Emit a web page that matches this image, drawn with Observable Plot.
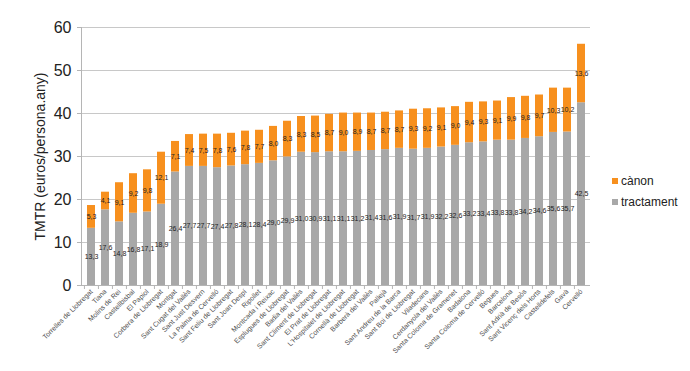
<!DOCTYPE html>
<html>
<head>
<meta charset="utf-8">
<script src="https://cdn.jsdelivr.net/npm/d3@7"></script>
<script src="https://cdn.jsdelivr.net/npm/@observablehq/plot@0.6"></script>
<style>
  html, body { margin: 0; padding: 0; background: #fff; }
  #wrap { position: relative; width: 690px; height: 371px; font-family: "Liberation Sans", Arial, sans-serif; }
  #legend { position: absolute; left: 612px; top: 171px; font-size: 12px; color: #222; line-height: 21px; }
  #legend .sw { display: inline-block; width: 6px; height: 6px; margin-right: 3px; vertical-align: 1px; }
</style>
</head>
<body>
<div id="wrap"><div id="legend"></div></div>
<script>
const municipis = ["Torrelles de Llobregat","Tiana","Molins de Rei","Castellbisbal","El Papiol","Corbera de Llobregat","Montgat","Sant Cugat del Vallès","Sant Just Desvern","La Palma de Cervelló","Sant Feliu de Llobregat","Sant Joan Despí","Ripollet","Montcada i Reixac","Esplugues de Llobregat","Badia del Vallès","Sant Climent de Llobregat","El Prat de Llobregat","L'Hospitalet de Llobregat","Cornellà de Llobregat","Barberà del Vallès","Pallejà","Sant Andreu de la Barca","Sant Boi de Llobregat","Viladecans","Cerdanyola del Vallès","Santa Coloma de Gramenet","Badalona","Santa Coloma de Cervelló","Begues","Barcelona","Sant Adrià de Besòs","Sant Vicenç dels Horts","Castelldefels","Gavà","Cervelló"];
const tractament = [13.3,17.6,14.8,16.8,17.1,18.9,26.4,27.7,27.7,27.4,27.8,28.1,28.4,29.0,29.9,31.0,30.9,31.1,31.1,31.2,31.4,31.6,31.9,31.7,31.9,32.2,32.6,33.2,33.4,33.8,33.8,34.2,34.6,35.6,35.7,42.5];
const canon = [5.3,4.1,9.1,9.2,9.8,12.1,7.1,7.4,7.5,7.8,7.6,7.8,7.7,8.0,8.3,8.3,8.5,8.7,9.0,8.9,8.7,8.7,8.7,9.3,9.2,9.1,9.0,9.4,9.3,9.1,9.9,9.8,9.7,10.3,10.2,13.6];
const series = ["cànon","tractament"];
const colors = ["#f7901e","#a8a8a8"];
const yTicks = [0,10,20,30,40,50,60];
const yTitle = "TMTR (euros/persona.any)";

const rows = [];
municipis.forEach((m, i) => {
  rows.push({name: m, serie: "tractament", value: tractament[i]});
  rows.push({name: m, serie: "cànon", value: canon[i]});
});
const order = ["tractament","cànon"];
const fmt = v => v.toFixed(1).replace(".", ",");
const halfStep = 509 / municipis.length / 2;

const chart = Plot.plot({
  width: 690,
  height: 371,
  marginLeft: 81,
  marginRight: 100,
  marginTop: 27,
  marginBottom: 86,
  style: {fontFamily: "Liberation Sans, Arial, sans-serif", background: "transparent"},
  x: {domain: municipis, paddingInner: 0.45, paddingOuter: 0.225, label: null},
  y: {domain: [0, 60], label: null},
  color: {domain: series, range: colors},
  marks: [
    Plot.gridY(yTicks, {stroke: "#c8c8c8", strokeOpacity: 1}),
    Plot.barY(rows, {x: "name", y: "value", fill: "serie", order}),
    Plot.text(rows, Plot.stackY({x: "name", y: "value", z: "serie", order, text: d => fmt(d.value), fontSize: 7, fill: "#222"})),
    Plot.ruleY([0], {stroke: "#b5b5b5"}),
    Plot.frame({anchor: "left", stroke: "#b5b5b5"}),
    Plot.axisX({tickSize: 4, tickFormat: () => "", dx: -halfStep, stroke: "#b5b5b5"}),
    Plot.axisX({tickRotate: -45, tickSize: 0, tickPadding: 5, fontSize: 7, fill: "#4d4d4d"}),
    Plot.axisY(yTicks, {tickSize: 4, tickPadding: 6, fontSize: 16, fill: "#222", stroke: "#b5b5b5", label: null}),
    Plot.axisY({ticks: [], label: yTitle, labelAnchor: "center", labelArrow: "none", labelOffset: 46, fontSize: 14, fill: "#222"})
  ]
});
document.getElementById("wrap").prepend(chart);

const legend = document.getElementById("legend");
series.forEach((s, i) => {
  const row = document.createElement("div");
  const sw = document.createElement("span");
  sw.className = "sw";
  sw.style.background = colors[i];
  row.appendChild(sw);
  row.appendChild(document.createTextNode(s));
  legend.appendChild(row);
});
</script>
</body>
</html>
